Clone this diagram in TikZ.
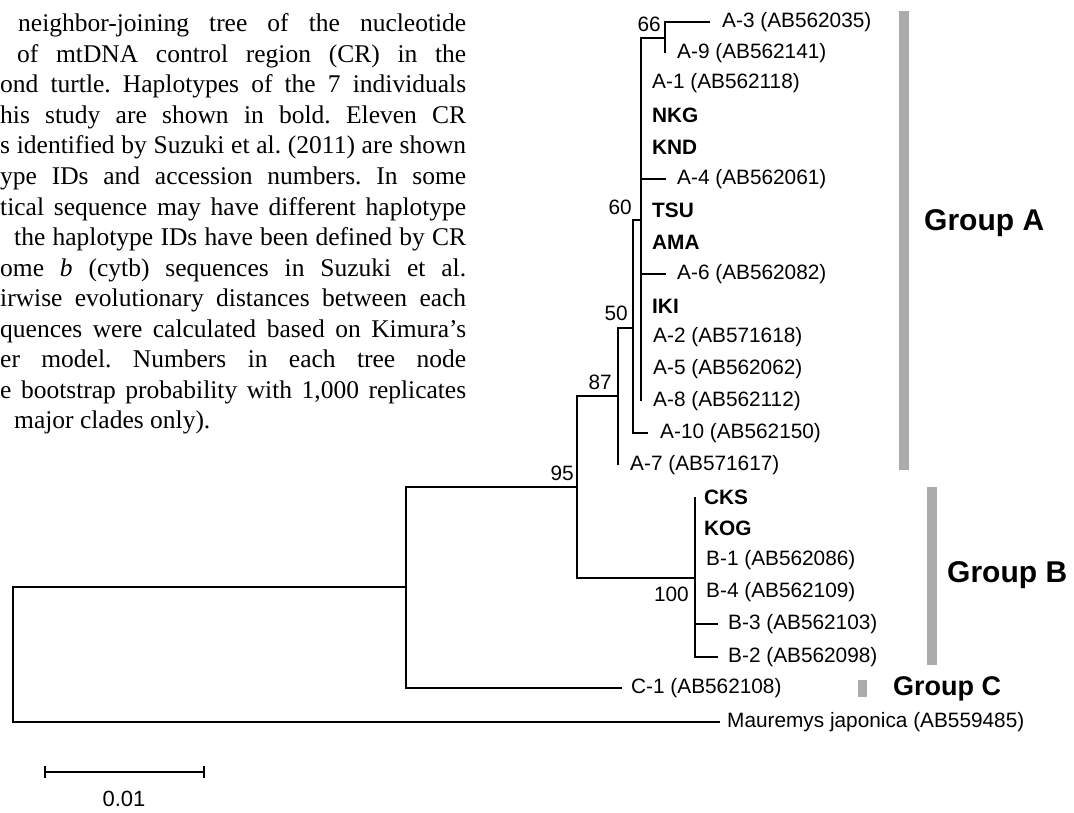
\documentclass[tikz,border=0pt]{standalone}
\usepackage{fontspec}
\setmainfont{Liberation Serif}
\newfontfamily\lab{Liberation Sans}
\definecolor{barcol}{HTML}{ABABAB}
\tikzset{
  br/.style={line width=2.6pt},
  leaf/.style={anchor=west, inner sep=0pt, font=\lab\fontsize{20.8}{24}\selectfont},
  bleaf/.style={anchor=west, inner sep=0pt, font=\lab\bfseries\fontsize{20.8}{24}\selectfont},
  boot/.style={anchor=east, inner sep=0pt, font=\lab\fontsize{20.8}{24}\selectfont},
  grp/.style={anchor=west, inner sep=0pt, font=\lab\bfseries\fontsize{30}{34}\selectfont},
  capline/.style={anchor=base west, inner sep=0pt, font=\frenchspacing\fontsize{25.5}{30}\selectfont},
  gbar/.style={fill=barcol, draw=none}
}
\begin{document}
\begin{tikzpicture}[x=1pt,y=-1pt]
\useasboundingbox (0,0) rectangle (1074,812);
% caption
\node[capline] (c1) at (18,31.7) {\makebox[448pt][s]{neighbor-joining tree of the nucleotide}};
\node[capline] (c2) at (17,62.3) {\makebox[449pt][s]{of mtDNA control region (CR) in the}};
\node[capline] (c3) at (0,92.8) {\makebox[466pt][s]{ond turtle. Haplotypes of the 7 individuals}};
\node[capline] (c4) at (0,123.4) {\makebox[466pt][s]{his study are shown in bold. Eleven CR}};
\node[capline] (c5) at (0,153.9) {\makebox[466pt][s]{s identified by Suzuki et al. (2011) are shown}};
\node[capline] (c6) at (0,184.5) {\makebox[466pt][s]{ype IDs and accession numbers. In some}};
\node[capline] (c7) at (0,215) {\makebox[466pt][s]{tical sequence may have different haplotype}};
\node[capline] (c8) at (14,245.6) {\makebox[452pt][s]{the haplotype IDs have been defined by CR}};
\node[capline] (c9) at (0,276.1) {\makebox[466pt][s]{ome \textit{b} (cytb) sequences in Suzuki et al.}};
\node[capline] (c10) at (0,306.7) {\makebox[466pt][s]{irwise evolutionary distances between each}};
\node[capline] (c11) at (0,337.2) {\makebox[466pt][s]{quences were calculated based on Kimura's}};
\node[capline] (c12) at (0,367.8) {\makebox[466pt][s]{er model. Numbers in each tree node}};
\node[capline] (c13) at (0,398.3) {\makebox[466pt][s]{e bootstrap probability with 1,000 replicates}};
\node[capline] (c14) at (14,428.9) {major clades only).};

% internal nodes
\coordinate (root) at (13,654);
\coordinate (nC) at (406,587);
\coordinate (n95) at (577,487);
\coordinate (n87) at (618,396);
\coordinate (n50) at (633,328);
\coordinate (n60) at (641,220);
\coordinate (n66) at (665,38);
\coordinate (n100) at (695,578);
% leaf ends
\coordinate (eA3) at (710,22);
\coordinate (eA9) at (665,53);
\coordinate (eA1) at (641,83);
\coordinate (eNKG) at (641,115);
\coordinate (eKND) at (641,147);
\coordinate (eA4) at (666,179);
\coordinate (eTSU) at (641,210);
\coordinate (eAMA) at (641,242);
\coordinate (eA6) at (666,274);
\coordinate (eIKI) at (641,306);
\coordinate (eA2) at (641,337);
\coordinate (eA5) at (641,369);
\coordinate (eA8) at (641,401);
\coordinate (eA10) at (648,433);
\coordinate (eA7) at (618,465);
\coordinate (eCKS) at (695,497);
\coordinate (eKOG) at (695,528);
\coordinate (eB1) at (695,560);
\coordinate (eB4) at (695,592);
\coordinate (eB3) at (718,624);
\coordinate (eB2) at (718,657);
\coordinate (eC1) at (622,688);
\coordinate (eMJ) at (720,722);

% branches
\draw[br] (nC) -| (root);
\draw[br] (eMJ) -| (root);
\draw[br] (n95) -| (nC);
\draw[br] (eC1) -| (nC);
\draw[br] (n87) -| (n95);
\draw[br] (n100) -| (n95);
\draw[br] (n50) -| (n87);
\draw[br] (eA7) -| (n87);
\draw[br] (n60) -| (n50);
\draw[br] (eA10) -| (n50);
\draw[br] (n66) -| (n60);
\draw[br] (eA8) -| (n60);
\draw[br] (eA4) -| (n60);
\draw[br] (eA6) -| (n60);
\draw[br] (eA3) -| (n66);
\draw[br] (eA9) -| (n66);
\draw[br] (eCKS) -| (n100);
\draw[br] (eB2) -| (n100);
\draw[br] (eB3) -| (n100);

% leaf labels
\node[leaf] (A3) at ([xshift=12pt]eA3) {A-3 (AB562035)};
\node[leaf] (A9) at ([xshift=12pt]eA9) {A-9 (AB562141)};
\node[leaf] (A1) at ([xshift=11pt]eA1) {A-1 (AB562118)};
\node[bleaf] (NKG) at ([xshift=11pt]eNKG) {NKG};
\node[bleaf] (KND) at ([xshift=11pt]eKND) {KND};
\node[leaf] (A4) at ([xshift=11pt]eA4) {A-4 (AB562061)};
\node[bleaf] (TSU) at ([xshift=11pt]eTSU) {TSU};
\node[bleaf] (AMA) at ([xshift=11pt]eAMA) {AMA};
\node[leaf] (A6) at ([xshift=11pt]eA6) {A-6 (AB562082)};
\node[bleaf] (IKI) at ([xshift=11pt]eIKI) {IKI};
\node[leaf] (A2) at ([xshift=12pt]eA2) {A-2 (AB571618)};
\node[leaf] (A5) at ([xshift=12pt]eA5) {A-5 (AB562062)};
\node[leaf] (A8) at ([xshift=12pt]eA8) {A-8 (AB562112)};
\node[leaf] (A10) at ([xshift=12pt]eA10) {A-10 (AB562150)};
\node[leaf] (A7) at ([xshift=12pt]eA7) {A-7 (AB571617)};
\node[bleaf] (CKS) at ([xshift=9pt]eCKS) {CKS};
\node[bleaf] (KOG) at ([xshift=9pt]eKOG) {KOG};
\node[leaf] (B1) at ([xshift=11pt]eB1) {B-1 (AB562086)};
\node[leaf] (B4) at ([xshift=11pt]eB4) {B-4 (AB562109)};
\node[leaf] (B3) at ([xshift=10pt]eB3) {B-3 (AB562103)};
\node[leaf] (B2) at ([xshift=10pt]eB2) {B-2 (AB562098)};
\node[leaf] (C1) at ([xshift=9pt]eC1) {C-1 (AB562108)};
\node[leaf] (MJ) at ([xshift=7pt]eMJ) {Mauremys japonica (AB559485)};

% bootstrap values
\node[boot] (b66) at (661,24) {66};
\node[boot] (b60) at (632,207) {60};
\node[boot] (b50) at (628,313) {50};
\node[boot] (b87) at (612,382) {87};
\node[boot] (b95) at (574,473) {95};
\node[boot] (b100) at (689,594) {100};

% group bars and labels
\fill[gbar] (899,11) rectangle (909,470);
\fill[gbar] (927,487) rectangle (937,665);
\fill[gbar] (858,680) rectangle (867,697);
\node[grp] (gA) at (924,223) {Group A};
\node[grp] (gB) at (947,575) {Group B};
\node[grp, font=\lab\bfseries\fontsize{27}{31}\selectfont] (gC) at (893,689) {Group C};

% scale bar
\coordinate (s1) at (45,772);
\coordinate (s2) at (204,772);
\draw[br] (s1) -- (s2);
\draw[br] ([yshift=6pt]s1) -- ([yshift=-6pt]s1);
\draw[br] ([yshift=6pt]s2) -- ([yshift=-6pt]s2);
\node[font=\lab\fontsize{22}{26}\selectfont, inner sep=0pt] (sl) at (124,799) {0.01};
\end{tikzpicture}
\end{document}
